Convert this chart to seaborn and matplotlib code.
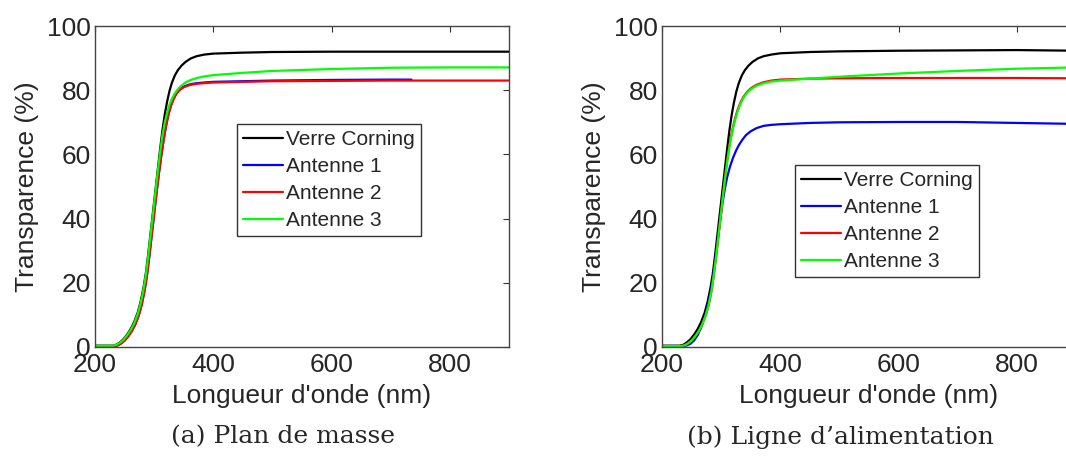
import numpy as np
import pandas as pd
import matplotlib
matplotlib.use("Agg")
import matplotlib.pyplot as plt
import seaborn as sns

# ---------------- data ----------------
series_names = ["Verre Corning", "Antenne 1", "Antenne 2", "Antenne 3"]
series_colors = ["#000000", "#0000ff", "#ff0000", "#00ff00"]

# Panel (a) Plan de masse
a_verre_nm = [200, 230, 236, 242, 248, 254, 260, 266, 272, 277, 282, 286, 290, 294, 298, 302, 306, 310, 314, 318, 322, 326, 330, 335, 340, 346, 353, 362, 372, 385, 400, 450, 500, 600, 750, 900]
a_verre_T = [0.4, 0.4, 0.7, 1.4, 2.4, 3.8, 5.5, 7.7, 10.6, 14, 18.5, 23, 29, 35.5, 42, 48.5, 55, 61.5, 67.5, 72.5, 76.5, 79.8, 82.3, 84.6, 86.2, 87.6, 88.8, 89.9, 90.6, 91.1, 91.4, 91.7, 91.9, 92, 92, 92]

a_ant1_nm = [200, 232, 238, 244, 250, 256, 262, 268, 274, 279, 284, 288, 292, 296, 300, 304, 308, 312, 316, 320, 324, 328, 333, 338, 344, 351, 360, 372, 385, 400, 450, 500, 600, 700, 735]
a_ant1_T = [0.3, 0.3, 0.5, 1.1, 2, 3.3, 4.9, 7, 9.9, 13.2, 17.8, 22.5, 28.5, 35, 41.5, 48, 54, 59.5, 64.5, 68.8, 72.3, 75, 77.4, 79.1, 80.4, 81.2, 81.8, 82.2, 82.4, 82.6, 82.8, 83, 83.2, 83.3, 83.3]

a_ant2_nm = [200, 232, 238, 244, 250, 256, 262, 268, 274, 279, 284, 288, 292, 296, 300, 304, 308, 312, 316, 320, 324, 328, 333, 338, 344, 351, 360, 372, 385, 400, 450, 500, 600, 700, 800, 900]
a_ant2_T = [0.3, 0.3, 0.5, 1.1, 2, 3.3, 4.9, 7, 9.9, 13.2, 17.8, 22.5, 28.5, 35, 41.5, 48, 54, 59.5, 64.5, 68.8, 72.3, 75, 77.3, 79, 80.2, 81, 81.6, 82, 82.2, 82.4, 82.6, 82.8, 82.9, 83, 83, 83]

a_ant3_nm = [200, 230, 236, 242, 248, 254, 260, 266, 272, 277, 282, 286, 290, 294, 298, 302, 306, 310, 314, 318, 322, 326, 330, 335, 340, 346, 353, 362, 372, 385, 400, 450, 500, 600, 700, 800, 900]
a_ant3_T = [0.4, 0.4, 0.7, 1.3, 2.2, 3.6, 5.2, 7.3, 10.2, 13.5, 18, 22.5, 28.5, 35, 41.5, 48, 54.5, 60.5, 66, 70, 73, 75.5, 77.3, 79, 80.3, 81.4, 82.4, 83.2, 83.8, 84.3, 84.7, 85.4, 86, 86.6, 87, 87.1, 87.1]

# Panel (b) Ligne d'alimentation
b_verre_nm = [200, 230, 236, 242, 248, 254, 260, 266, 272, 277, 282, 286, 290, 294, 298, 302, 306, 310, 314, 318, 322, 326, 330, 335, 340, 346, 353, 362, 372, 385, 400, 450, 500, 600, 700, 800, 900]
b_verre_T = [0.4, 0.4, 0.7, 1.4, 2.4, 3.8, 5.5, 7.7, 10.6, 14, 18.5, 23, 29, 35.5, 42, 48.5, 55, 61.5, 67.5, 72.5, 76.5, 79.8, 82.3, 84.6, 86.2, 87.6, 88.8, 89.9, 90.6, 91.1, 91.5, 91.9, 92.1, 92.3, 92.4, 92.5, 92.3]

b_ant1_nm = [200, 236, 242, 248, 254, 260, 266, 272, 277, 282, 286, 290, 294, 298, 302, 306, 310, 315, 320, 325, 330, 336, 342, 350, 360, 372, 385, 400, 450, 500, 600, 700, 800, 900]
b_ant1_T = [0.3, 0.3, 0.5, 1, 2, 3.6, 6, 9.3, 12.8, 17, 21.5, 27, 33, 39, 44.5, 49, 52.8, 56.2, 58.9, 61.1, 62.9, 64.6, 66, 67.2, 68.2, 68.9, 69.2, 69.4, 69.8, 70, 70.1, 70.1, 69.8, 69.5]

b_ant2_nm = [200, 232, 238, 244, 250, 256, 262, 268, 274, 279, 284, 288, 292, 296, 300, 304, 308, 312, 316, 320, 324, 328, 333, 338, 344, 351, 360, 372, 385, 400, 450, 500, 600, 700, 800, 900]
b_ant2_T = [0.3, 0.3, 0.5, 1.1, 2, 3.3, 4.9, 7, 9.9, 13.2, 17.8, 23, 29, 35.5, 42, 48.5, 55, 60.5, 65, 68.5, 71.5, 74, 76.3, 78, 79.5, 80.7, 81.7, 82.5, 83, 83.3, 83.6, 83.7, 83.8, 83.8, 83.8, 83.7]

b_ant3_nm = [200, 232, 238, 244, 250, 256, 262, 268, 274, 279, 284, 288, 292, 296, 300, 304, 308, 312, 316, 320, 324, 328, 333, 338, 344, 351, 360, 372, 385, 400, 450, 500, 600, 700, 800, 900]
b_ant3_T = [0.3, 0.3, 0.5, 1.1, 2, 3.3, 4.9, 7, 9.9, 13.2, 17.8, 23, 29, 35.5, 42, 48.5, 54.5, 60, 64.5, 68, 71, 73.5, 75.9, 77.7, 79.3, 80.4, 81.4, 82.2, 82.7, 83, 83.6, 84.2, 85.2, 86, 86.7, 87.1]

x_ticks = [200, 400, 600, 800]
y_ticks = [0, 20, 40, 60, 80, 100]
x_label = "Longueur d'onde (nm)"
y_label = "Transparence (%)"
captions = ["(a) Plan de masse", "(b) Ligne d\u2019alimentation"]

panels = [
    [(a_verre_nm, a_verre_T), (a_ant1_nm, a_ant1_T), (a_ant2_nm, a_ant2_T), (a_ant3_nm, a_ant3_T)],
    [(b_verre_nm, b_verre_T), (b_ant1_nm, b_ant1_T), (b_ant2_nm, b_ant2_T), (b_ant3_nm, b_ant3_T)],
]

# ---------------- style ----------------
sns.set_style("white")
plt.rcParams["font.family"] = ["Liberation Sans", "DejaVu Sans"]

W, H = 1066, 458
fig = plt.figure(figsize=(W / 100, H / 100), dpi=100)
fig.patch.set_facecolor("white")

axes_px = [(95, 26, 414, 321), (662, 26, 414, 321)]
legend_anchor = [(0.343, 0.695), (0.321, 0.567)]
caption_x = [283, 840]

for i, (data, (lx, ty, w, h)) in enumerate(zip(panels, axes_px)):
    ax = fig.add_axes([lx / W, 1 - (ty + h) / H, w / W, h / H])
    for name, color, (xs, ys) in zip(series_names, series_colors, data):
        df = pd.DataFrame({"nm": xs, "T": ys})
        sns.lineplot(data=df, x="nm", y="T", ax=ax, color=color, lw=1.6,
                     label=name, sort=False, estimator=None)
    ax.set_xlim(200, 900)
    ax.set_ylim(0, 100)
    ax.set_xticks(x_ticks)
    ax.set_yticks(y_ticks)
    ax.tick_params(direction="in", top=True, right=True, length=4, width=0.8,
                   color="#333333", labelsize=19, pad=4)
    ax.tick_params(axis="y", pad=3)
    for sp in ax.spines.values():
        sp.set_color("#444444")
        sp.set_linewidth(1.0)
    ax.set_xlabel(x_label, fontsize=19)
    ax.set_ylabel(y_label, fontsize=19)
    ax.xaxis.set_label_coords(0.5, -0.115)
    ax.yaxis.set_label_coords(-0.135, 0.5)
    ax.grid(False)
    leg = ax.legend(loc="upper left", bbox_to_anchor=legend_anchor[i], fontsize=15,
                    frameon=True, fancybox=False, framealpha=1, edgecolor="#333333",
                    handlelength=1.9, handletextpad=0.15, labelspacing=0.38,
                    borderpad=0.3, borderaxespad=0)
    leg.get_frame().set_linewidth(1.0)
    fig.text(caption_x[i] / W, 1 - 437 / H, captions[i], ha="center", va="center",
             fontsize=18, family=["DejaVu Serif"])

fig.savefig("out.png", dpi=100, facecolor="white")
